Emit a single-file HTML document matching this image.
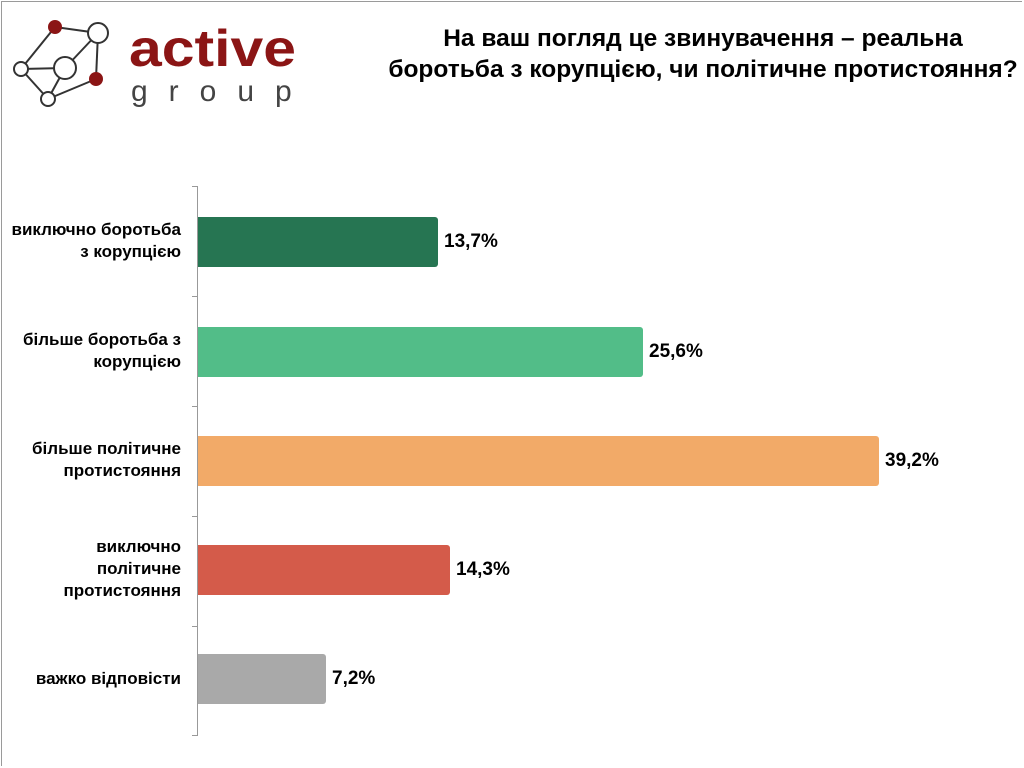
<!DOCTYPE html>
<html><head><meta charset="utf-8"><style>
body{margin:0;width:1024px;height:768px;background:#fff;font-family:"Liberation Sans",sans-serif;overflow:hidden;position:relative}
.frame{position:absolute;left:1px;top:1px;width:1020px;height:764px;border:1px solid #9a9a9a;border-right:none;border-bottom:none}
.title{position:absolute;left:353px;top:23px;width:700px;text-align:center;font-weight:bold;font-size:24.5px;line-height:31px;color:#000;white-space:nowrap}
.lbl{position:absolute;right:843px;text-align:right;font-weight:bold;font-size:17px;line-height:22px;color:#000;width:190px;white-space:nowrap}
.bar{position:absolute;left:198px;height:50px;border-radius:0 3px 3px 0}
.val{position:absolute;font-weight:bold;font-size:19px;color:#000}
.ax{position:absolute;left:197px;top:186px;width:1px;height:550px;background:#999}
.tk{position:absolute;left:192px;width:6px;height:1px;background:#999}
</style></head><body>
<div class="frame"></div>
<svg style="position:absolute;left:0;top:0" width="320" height="120">
<g stroke="#333" stroke-width="2" fill="none">
<line x1="55" y1="27" x2="98" y2="33"/><line x1="55" y1="27" x2="21" y2="69"/><line x1="21" y1="69" x2="48" y2="99"/>
<line x1="98" y1="33" x2="65" y2="68"/><line x1="98" y1="33" x2="96" y2="79"/><line x1="21" y1="69" x2="65" y2="68"/>
<line x1="65" y1="68" x2="48" y2="99"/><line x1="96" y1="79" x2="48" y2="99"/>
</g>
<circle cx="55" cy="27" r="7" fill="#8b1515"/>
<circle cx="98" cy="33" r="10" fill="#fff" stroke="#333" stroke-width="2"/>
<circle cx="65" cy="68" r="11" fill="#fff" stroke="#333" stroke-width="2"/>
<circle cx="21" cy="69" r="7" fill="#fff" stroke="#333" stroke-width="2"/>
<circle cx="96" cy="79" r="7" fill="#8b1515"/>
<circle cx="48" cy="99" r="7" fill="#fff" stroke="#333" stroke-width="2"/>
<text x="129" y="66" font-family="Liberation Sans" font-weight="bold" font-size="52" fill="#8b1515" textLength="167" lengthAdjust="spacingAndGlyphs">active</text>
<text x="131" y="101" font-family="Liberation Sans" font-size="30" fill="#444" letter-spacing="21">group</text>
</svg>
<div class="title">На ваш погляд це звинувачення – реальна<br>боротьба з корупцією, чи політичне протистояння?</div>
<div class="ax"></div>
<div class="tk" style="top:186px"></div><div class="tk" style="top:296px"></div><div class="tk" style="top:406px"></div><div class="tk" style="top:516px"></div><div class="tk" style="top:626px"></div><div class="tk" style="top:735px"></div>
<div class="lbl" style="top:219px">виключно боротьба<br>з корупцією</div>
<div class="lbl" style="top:329px">більше боротьба з<br>корупцією</div>
<div class="lbl" style="top:438px">більше політичне<br>протистояння</div>
<div class="lbl" style="top:536px">виключно<br>політичне<br>протистояння</div>
<div class="lbl" style="top:668px">важко відповісти</div>
<div class="bar" style="top:217px;width:240px;background:#267552"></div>
<div class="bar" style="top:327px;width:445px;background:#52bd88"></div>
<div class="bar" style="top:436px;width:681px;background:#f2aa68"></div>
<div class="bar" style="top:545px;width:252px;background:#d45b4a"></div>
<div class="bar" style="top:654px;width:128px;background:#a9a9a9"></div>
<div class="val" style="left:444px;top:231px">13,7%</div>
<div class="val" style="left:649px;top:341px">25,6%</div>
<div class="val" style="left:885px;top:450px">39,2%</div>
<div class="val" style="left:456px;top:559px">14,3%</div>
<div class="val" style="left:332px;top:668px">7,2%</div>
</body></html>
